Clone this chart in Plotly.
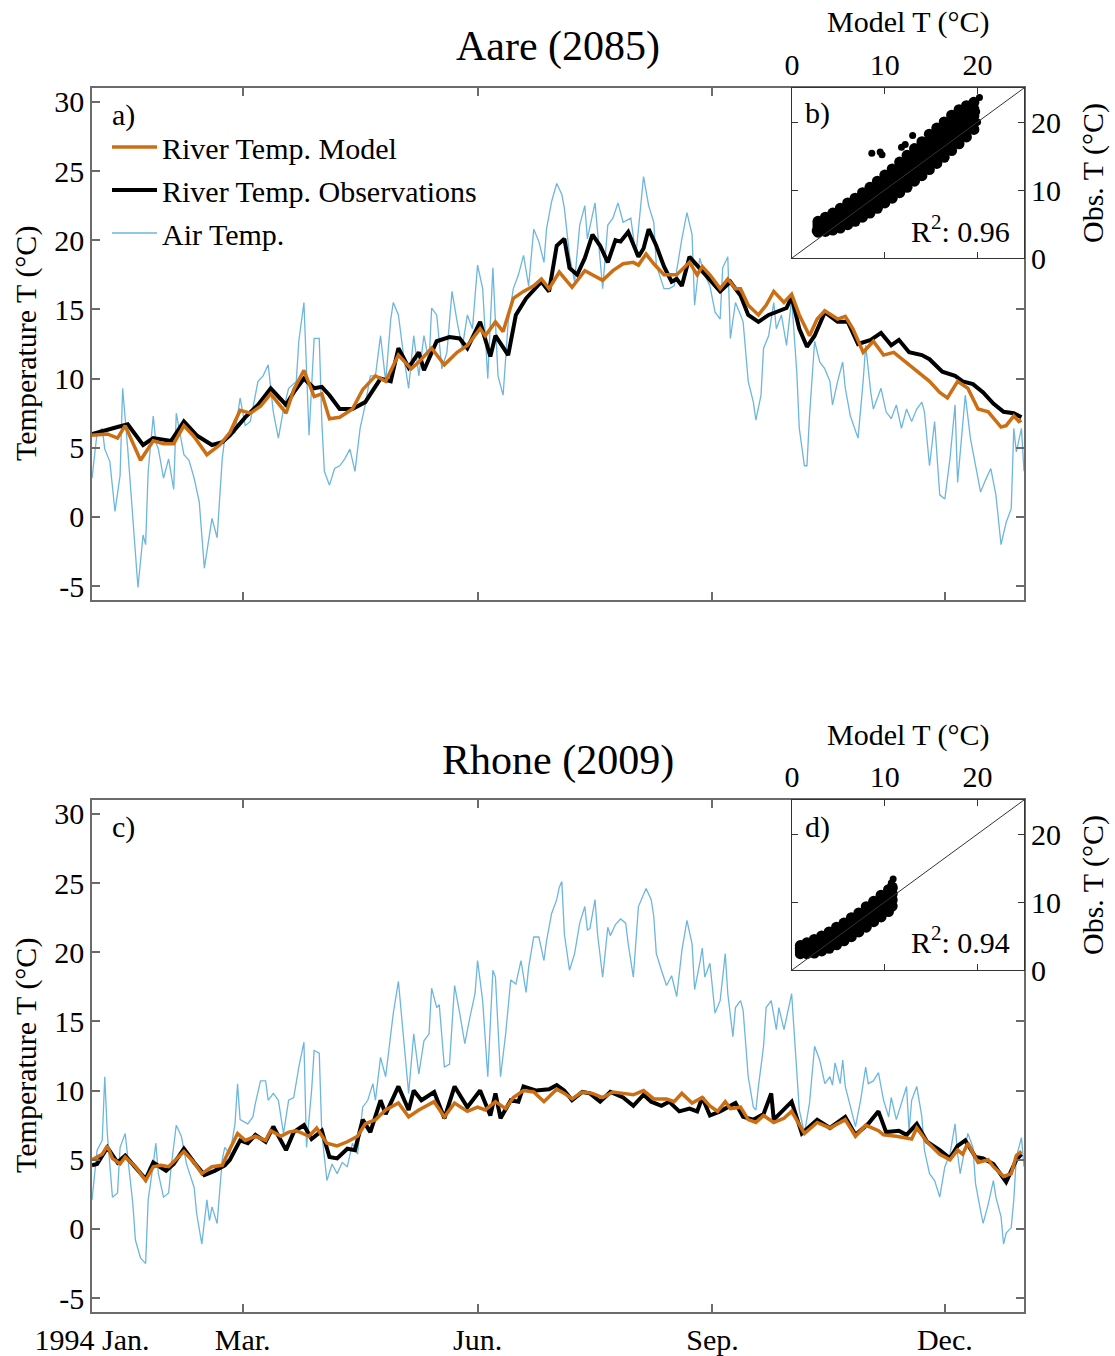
import plotly.graph_objects as go

# ---------------- DATA ----------------
# Aare (2085) - day of year (0 = 1 Jan 1994)
aare_model_day = [0, 6, 10, 13, 19, 24, 28, 32, 36, 40, 45, 50, 54, 58, 62, 66, 70, 76, 79, 83, 87, 90, 93, 97, 102, 106, 111, 115, 120, 125, 128, 133, 138, 143, 147, 152, 154, 158, 161, 165, 169, 173, 176, 179, 183, 188, 193, 196, 200, 204, 208, 212, 214, 217, 220, 224, 229, 234, 237, 239, 242, 246, 249, 252, 254, 257, 261, 264, 267, 271, 274, 277, 281, 284, 287, 292, 295, 298, 302, 306, 310, 314, 318, 323, 328, 332, 335, 339, 343, 347, 351, 356, 358, 361, 363, 364]
aare_model = [5.9, 6.0, 5.7, 6.6, 4.1, 5.5, 5.3, 5.3, 6.6, 5.8, 4.5, 5.2, 6.1, 7.7, 7.5, 8.0, 8.9, 7.5, 9.2, 10.6, 8.7, 8.9, 7.1, 7.2, 7.8, 9.2, 10.2, 9.8, 11.7, 10.7, 11.2, 12.2, 11.0, 11.9, 12.4, 13.6, 13.1, 14.1, 13.4, 15.8, 16.3, 16.7, 17.2, 16.5, 17.7, 16.6, 17.8, 17.5, 17.1, 17.8, 18.3, 18.4, 18.2, 19.0, 18.3, 17.5, 17.5, 18.4, 17.5, 18.1, 17.5, 16.5, 17.2, 16.5, 16.5, 15.3, 14.6, 15.3, 16.3, 15.5, 16.1, 14.6, 13.1, 14.3, 14.9, 14.3, 14.5, 13.6, 11.9, 12.7, 11.7, 11.9, 11.3, 10.5, 9.8, 9.0, 8.6, 9.8, 9.3, 7.8, 7.6, 6.5, 6.6, 7.3, 6.9, 7.0]

aare_obs_day = [0, 7, 10, 14, 20, 24, 31, 36, 41, 47, 51, 54, 60, 65, 70, 76, 79, 83, 87, 90, 93, 97, 102, 107, 113, 117, 120, 124, 128, 130, 135, 140, 144, 147, 152, 156, 158, 163, 166, 170, 176, 179, 182, 185, 187, 190, 193, 196, 199, 202, 205, 207, 210, 214, 216, 218, 221, 224, 227, 229, 231, 234, 237, 239, 242, 246, 250, 254, 257, 261, 265, 269, 272, 274, 277, 280, 283, 287, 292, 296, 300, 305, 309, 313, 316, 320, 325, 328, 333, 338, 341, 345, 349, 353, 357, 361, 364]
aare_obs = [6.0, 6.4, 6.5, 6.7, 5.2, 5.7, 5.5, 6.9, 5.9, 5.2, 5.4, 5.9, 7.2, 8.1, 9.3, 8.1, 9.0, 10.0, 9.3, 9.4, 8.8, 7.8, 7.8, 8.3, 10.0, 9.8, 12.2, 10.8, 11.9, 10.6, 12.7, 13.0, 12.9, 12.2, 14.1, 11.6, 13.1, 11.7, 14.6, 15.8, 17.0, 16.3, 19.6, 20.1, 18.0, 17.5, 18.7, 20.4, 19.6, 18.4, 20.0, 19.9, 20.6, 18.8, 19.4, 20.8, 19.6, 18.1, 17.0, 17.2, 16.7, 18.8, 18.2, 17.7, 17.2, 16.3, 17.0, 16.0, 14.6, 14.1, 14.6, 14.9, 15.1, 15.9, 13.6, 12.3, 13.1, 14.8, 14.1, 14.1, 12.5, 12.8, 13.3, 12.4, 12.8, 11.9, 11.7, 11.4, 10.5, 10.2, 9.8, 9.6, 9.0, 8.2, 7.6, 7.5, 7.2]

aare_air_day = [0, 2, 4, 5, 7, 9, 11, 12, 14, 16, 18, 20, 21, 22, 24, 25, 26, 28, 30, 32, 33, 36, 38, 40, 42, 44, 47, 49, 51, 52, 56, 58, 60, 62, 65, 67, 69, 71, 73, 75, 77, 80, 81, 83, 84, 85, 87, 89, 90, 91, 93, 95, 97, 99, 101, 103, 105, 107, 109, 111, 113, 115, 117, 118, 120, 122, 124, 126, 128, 130, 132, 133, 135, 137, 139, 141, 143, 145, 147, 149, 151, 153, 155, 157, 159, 161, 163, 165, 167, 169, 171, 173, 175, 177, 178, 180, 182, 184, 185, 187, 189, 191, 193, 194, 197, 199, 200, 202, 204, 206, 208, 211, 213, 216, 218, 220, 221, 224, 226, 228, 231, 233, 235, 236, 238, 240, 242, 244, 246, 247, 249, 250, 252, 254, 255, 257, 259, 260, 262, 263, 265, 267, 268, 270, 272, 274, 276, 277, 279, 280, 281, 283, 285, 287, 289, 290, 292, 294, 295, 297, 300, 302, 303, 305, 306, 309, 311, 313, 315, 317, 319, 321, 323, 325, 326, 328, 330, 332, 334, 336, 338, 339, 340, 342, 344, 346, 348, 350, 352, 354, 356, 358, 360, 361, 362, 364, 365]
aare_air = [2.8, 6.1, 6.4, 4.9, 4.0, 0.4, 3.0, 9.3, 4.9, 0.0, -5.1, -1.3, -2.0, 3.3, 7.3, 5.4, 4.9, 2.8, 4.2, 2.0, 7.5, 4.5, 4.1, 2.8, 1.1, -3.7, -0.1, -1.5, 4.2, 5.7, 6.1, 8.6, 6.6, 6.9, 9.8, 10.2, 11.0, 7.6, 5.7, 7.8, 9.3, 9.8, 12.7, 15.5, 10.5, 5.9, 12.9, 12.9, 6.9, 3.3, 2.3, 3.5, 3.7, 4.2, 4.9, 3.3, 6.4, 8.1, 10.2, 10.2, 13.1, 9.8, 14.3, 15.5, 14.6, 11.7, 9.3, 13.1, 10.2, 13.1, 11.2, 15.1, 14.6, 10.7, 11.9, 16.3, 14.1, 12.2, 14.6, 13.6, 18.2, 16.5, 10.0, 18.0, 10.2, 8.8, 14.1, 16.5, 17.5, 18.9, 16.7, 20.8, 19.9, 18.4, 20.8, 22.8, 24.1, 23.3, 22.3, 18.9, 17.0, 21.1, 22.5, 20.1, 22.7, 18.7, 16.5, 21.1, 21.6, 22.7, 21.3, 21.6, 18.9, 24.6, 22.5, 21.3, 18.2, 16.5, 16.5, 16.7, 20.1, 22.0, 20.4, 15.3, 18.7, 17.5, 16.7, 14.8, 14.3, 18.0, 18.8, 12.9, 15.5, 14.6, 14.1, 9.8, 8.3, 7.0, 8.8, 12.2, 13.1, 15.5, 13.6, 14.6, 12.4, 15.8, 10.5, 6.4, 3.7, 3.7, 7.3, 12.7, 11.2, 10.7, 9.8, 8.1, 9.8, 11.2, 9.3, 7.3, 5.7, 9.8, 12.4, 9.0, 7.8, 9.3, 7.6, 7.1, 8.1, 6.4, 7.8, 6.9, 7.8, 8.3, 7.6, 3.7, 6.9, 1.6, 1.3, 4.2, 8.1, 2.5, 4.5, 8.8, 5.7, 3.7, 1.8, 2.7, 3.5, 1.6, -2.0, -0.4, 0.6, 6.4, 4.7, 6.4, 3.3]

# Rhone (2009)
rhone_model_day = [0, 4, 6, 8, 11, 13, 17, 21, 24, 27, 30, 36, 40, 43, 47, 51, 53, 57, 60, 64, 68, 70, 74, 77, 80, 83, 85, 88, 92, 96, 100, 104, 107, 111, 115, 120, 124, 128, 134, 138, 142, 147, 151, 154, 158, 162, 165, 169, 173, 177, 182, 185, 188, 192, 196, 200, 204, 208, 212, 216, 220, 225, 228, 231, 235, 239, 242, 245, 248, 250, 254, 257, 260, 263, 267, 271, 274, 279, 284, 289, 295, 299, 303, 308, 310, 315, 321, 323, 327, 332, 336, 339, 341, 343, 347, 351, 353, 357, 360, 362, 364]
rhone_model = [5.0, 5.4, 6.0, 5.1, 4.7, 5.2, 4.5, 3.5, 4.5, 4.6, 4.5, 5.6, 4.8, 4.0, 4.5, 4.6, 5.4, 6.9, 6.4, 6.7, 6.4, 7.1, 6.7, 7.0, 7.1, 6.9, 6.7, 7.3, 6.2, 6.0, 6.3, 6.7, 7.6, 7.9, 8.6, 9.1, 8.1, 8.6, 9.2, 8.1, 9.1, 8.5, 8.8, 8.6, 9.2, 8.7, 9.5, 10.0, 9.9, 9.2, 10.1, 9.8, 9.4, 9.9, 9.8, 9.5, 9.9, 9.8, 9.7, 10.0, 9.4, 9.4, 9.2, 9.8, 9.1, 9.5, 8.9, 8.5, 9.2, 8.7, 8.8, 7.9, 7.7, 8.2, 7.7, 8.0, 8.5, 6.9, 7.7, 7.3, 7.9, 6.7, 7.5, 7.1, 6.8, 6.7, 6.5, 7.3, 6.3, 5.4, 5.0, 5.7, 5.4, 6.2, 4.8, 5.0, 4.5, 3.8, 4.0, 5.3, 5.6]

rhone_obs_day = [0, 2, 6, 10, 13, 17, 21, 24, 29, 32, 36, 40, 44, 48, 52, 54, 58, 61, 64, 68, 71, 76, 79, 83, 86, 90, 93, 96, 100, 103, 106, 109, 113, 115, 120, 124, 126, 129, 134, 138, 142, 147, 152, 156, 158, 160, 164, 167, 169, 174, 179, 182, 185, 188, 192, 195, 199, 203, 208, 212, 216, 219, 223, 226, 230, 234, 237, 239, 242, 246, 249, 252, 255, 259, 263, 266, 267, 270, 274, 278, 284, 289, 295, 299, 304, 308, 311, 316, 319, 323, 327, 332, 336, 339, 342, 346, 349, 353, 358, 362, 364]
rhone_obs = [4.6, 4.7, 5.9, 4.8, 5.3, 4.5, 3.6, 4.8, 4.2, 4.7, 5.8, 4.8, 3.9, 4.2, 4.6, 5.0, 6.4, 6.2, 6.8, 6.3, 7.4, 5.7, 7.0, 7.5, 6.5, 7.1, 5.2, 5.1, 5.8, 5.7, 7.9, 7.0, 9.3, 8.3, 10.3, 8.6, 10.0, 9.3, 9.9, 8.0, 10.3, 8.8, 10.0, 8.2, 9.8, 8.0, 9.3, 9.2, 10.3, 10.0, 10.1, 10.4, 10.0, 9.3, 9.9, 9.8, 9.2, 9.9, 9.5, 8.9, 9.7, 9.2, 8.9, 9.2, 8.5, 8.7, 8.5, 9.5, 8.2, 8.5, 8.8, 9.1, 8.1, 7.9, 8.3, 9.8, 7.9, 8.5, 9.2, 6.9, 7.9, 7.3, 8.1, 6.8, 7.6, 8.5, 7.0, 7.1, 6.8, 7.6, 6.3, 5.7, 5.1, 6.0, 6.4, 5.2, 5.1, 4.7, 3.4, 5.0, 5.4]

rhone_air_day = [0, 2, 4, 5, 6, 8, 10, 11, 13, 15, 16, 17, 19, 21, 22, 24, 25, 26, 28, 30, 31, 33, 35, 37, 40, 41, 43, 45, 46, 47, 49, 51, 52, 54, 56, 57, 58, 61, 63, 64, 66, 68, 69, 71, 73, 75, 77, 79, 81, 83, 84, 86, 87, 89, 90, 92, 94, 96, 98, 100, 102, 104, 106, 108, 110, 111, 113, 115, 117, 118, 120, 122, 124, 126, 128, 130, 132, 133, 135, 136, 138, 140, 142, 144, 146, 148, 150, 151, 153, 155, 157, 158, 160, 162, 164, 166, 168, 170, 171, 173, 175, 177, 178, 180, 182, 183, 184, 185, 187, 189, 191, 193, 194, 195, 197, 198, 200, 202, 203, 205, 207, 209, 210, 212, 214, 217, 219, 220, 221, 223, 225, 227, 229, 231, 233, 235, 236, 238, 239, 240, 242, 244, 246, 248, 249, 251, 252, 254, 255, 257, 259, 260, 261, 263, 264, 266, 268, 269, 271, 274, 275, 276, 277, 279, 281, 283, 285, 287, 289, 290, 291, 293, 294, 295, 297, 299, 301, 303, 304, 306, 308, 310, 312, 313, 315, 317, 319, 320, 321, 323, 325, 326, 328, 330, 332, 334, 336, 338, 339, 340, 343, 345, 346, 348, 349, 351, 353, 354, 356, 357, 358, 360, 361, 362, 364, 365]
rhone_air = [2.1, 5.7, 6.4, 11.0, 6.9, 2.3, 2.6, 5.9, 6.9, 3.5, 1.8, -0.8, -2.1, -2.5, 2.1, 4.7, 6.2, 4.0, 2.3, 2.6, 4.5, 7.5, 6.7, 4.7, 3.0, 1.1, -1.1, 2.1, 0.6, 1.6, 0.4, 5.0, 5.9, 5.4, 7.6, 10.5, 7.9, 7.6, 8.1, 9.1, 10.7, 10.7, 9.3, 9.8, 9.3, 6.9, 9.3, 9.5, 11.7, 13.5, 5.9, 10.0, 12.9, 12.7, 6.9, 3.5, 4.7, 4.0, 4.8, 4.5, 6.2, 5.4, 8.8, 9.3, 10.5, 9.3, 12.4, 11.0, 14.4, 15.6, 17.9, 14.1, 9.8, 14.1, 11.2, 13.6, 14.1, 17.4, 16.0, 16.2, 11.7, 11.9, 17.6, 15.6, 13.4, 15.3, 17.0, 19.4, 16.5, 11.0, 18.7, 18.2, 11.0, 14.1, 18.0, 17.7, 19.4, 17.1, 18.9, 21.1, 21.1, 19.4, 20.8, 22.8, 23.8, 24.7, 25.1, 21.3, 18.7, 19.9, 22.1, 23.3, 21.6, 21.7, 23.8, 21.3, 18.2, 21.8, 21.2, 22.0, 22.4, 22.1, 20.6, 18.2, 23.3, 24.6, 23.8, 22.6, 19.9, 18.7, 17.6, 18.3, 16.8, 20.1, 22.3, 20.6, 17.3, 19.2, 20.3, 18.2, 19.2, 15.6, 16.5, 19.9, 17.0, 13.9, 16.0, 16.5, 15.8, 11.0, 8.8, 8.6, 10.3, 13.2, 16.0, 16.5, 14.4, 16.0, 14.4, 17.0, 14.4, 11.7, 8.6, 6.9, 9.1, 13.2, 12.2, 10.5, 11.0, 10.4, 12.0, 10.5, 12.2, 10.3, 8.8, 7.4, 9.3, 11.7, 10.5, 10.7, 11.3, 9.3, 8.1, 9.5, 7.9, 9.1, 10.3, 7.1, 9.3, 10.3, 8.1, 5.7, 4.0, 3.5, 2.3, 4.5, 5.4, 7.6, 5.4, 4.0, 6.9, 5.9, 3.3, 1.3, 0.4, 1.8, 3.5, 2.3, 0.9, -1.1, -0.3, 0.1, 2.1, 5.2, 6.6, 4.5]

# Inset b) scatter cloud (Aare), model vs observed
b_model_grid = [2.8, 3.6, 4.4, 5.2, 6.0, 6.8, 7.6, 8.4, 9.2, 10.0, 10.8, 11.6, 12.4, 13.2, 14.0, 14.8, 15.6, 16.4, 17.2, 18.0, 18.8, 19.6]
b_obs_row1 = [5.4, 6.0, 6.6, 7.3, 8.1, 8.8, 9.6, 10.4, 11.3, 12.2, 13.1, 14.1, 15.1, 16.1, 17.1, 18.2, 19.1, 20.0, 21.0, 21.8, 22.4, 22.9]
b_obs_row2 = [5.0, 5.5, 6.0, 6.6, 7.3, 7.9, 8.7, 9.4, 10.3, 11.2, 12.0, 12.9, 13.9, 14.8, 15.8, 16.8, 17.7, 18.6, 19.6, 20.5, 21.2, 21.9]
b_obs_row3 = [4.6, 5.0, 5.4, 5.9, 6.5, 7.1, 7.8, 8.5, 9.3, 10.2, 11.0, 11.9, 12.8, 13.7, 14.6, 15.6, 16.5, 17.4, 18.4, 19.3, 20.1, 20.9]
b_obs_row4 = [4.2, 4.5, 4.8, 5.2, 5.7, 6.3, 6.9, 7.6, 8.4, 9.2, 10.0, 10.8, 11.7, 12.6, 13.4, 14.3, 15.2, 16.1, 17.1, 18.1, 19.0, 19.9]
b_obs_row5 = [3.8, 3.9, 4.1, 4.4, 4.9, 5.4, 6.0, 6.6, 7.3, 8.1, 8.8, 9.6, 10.4, 11.3, 12.1, 13.0, 13.9, 14.8, 15.8, 16.8, 17.8, 18.9]
b_extra_model = [8.6, 9.5, 9.7, 11.8, 12.2, 20.2, 2.5, 13.0, 19.9, 20.0]
b_extra_obs = [15.4, 15.6, 15.2, 16.3, 16.7, 23.6, 4.0, 18.0, 21.5, 20.0]

# Inset d) scatter cloud (Rhone), model vs observed
d_model_grid = [0.9, 1.6, 2.4, 3.2, 4.0, 4.8, 5.6, 6.4, 7.2, 8.0, 8.8, 9.6, 10.4, 10.8]
d_obs_row1 = [3.6, 4.0, 4.5, 5.0, 5.6, 6.3, 6.9, 7.7, 8.4, 9.3, 10.1, 11.0, 11.8, 12.2]
d_obs_row2 = [3.2, 3.4, 3.8, 4.2, 4.8, 5.4, 6.0, 6.7, 7.4, 8.3, 9.1, 9.9, 10.7, 11.2]
d_obs_row3 = [2.8, 2.9, 3.1, 3.5, 3.9, 4.5, 5.1, 5.8, 6.5, 7.2, 8.0, 8.8, 9.6, 10.3]
d_obs_row4 = [2.4, 2.4, 2.5, 2.8, 3.2, 3.7, 4.3, 4.9, 5.6, 6.3, 7.1, 7.8, 8.6, 9.4]
d_extra_model = [10.9, 10.7, 11.0]
d_extra_obs = [13.4, 12.8, 12.0]

one_to_one = [0, 25]

month_ticks = [0, 59, 151, 243, 334]
month_labels = ["1994 Jan.", "Mar.", "Jun.", "Sep.", "Dec."]
temp_ticks = [-5, 0, 5, 10, 15, 20, 25, 30]
temp_labels = ["-5", "0", "5", "10", "15", "20", "25", "30"]
inset_ticks = [0, 10, 20]

# ---------------- STYLE ----------------
W, H = 1115, 1356
FONT = "Liberation Serif"
C_MODEL = "#CC6E14"
C_OBS = "#000000"
C_AIR = "#6DB6DE"

def fx(x):
    return x / W

def fy(y):
    return 1 - y / H

fig = go.Figure()

def add_panel(xa, ya, air_d, air, obs_d, obs, mod_d, mod, legend):
    fig.add_trace(go.Scatter(x=air_d, y=air, mode="lines", line=dict(color=C_AIR, width=1.3),
                             name="Air Temp.", xaxis=xa, yaxis=ya, showlegend=legend,
                             legendrank=3, legendgroup="c"))
    fig.add_trace(go.Scatter(x=obs_d, y=obs, mode="lines", line=dict(color=C_OBS, width=4),
                             name="River Temp. Observations", xaxis=xa, yaxis=ya, showlegend=legend,
                             legendrank=2, legendgroup="b"))
    fig.add_trace(go.Scatter(x=mod_d, y=mod, mode="lines", line=dict(color=C_MODEL, width=3.5),
                             name="River Temp. Model", xaxis=xa, yaxis=ya, showlegend=legend,
                             legendrank=1, legendgroup="a"))

add_panel("x", "y", aare_air_day, aare_air, aare_obs_day, aare_obs, aare_model_day, aare_model, True)
add_panel("x2", "y2", rhone_air_day, rhone_air, rhone_obs_day, rhone_obs, rhone_model_day, rhone_model, False)

def add_inset(xa, ya, grid, rows, ex_m, ex_o):
    for r in rows:
        fig.add_trace(go.Scatter(x=grid, y=r, mode="markers",
                                 marker=dict(color="black", size=11, opacity=1, line=dict(width=0)),
                                 xaxis=xa, yaxis=ya, showlegend=False, hoverinfo="skip"))
    fig.add_trace(go.Scatter(x=ex_m, y=ex_o, mode="markers",
                             marker=dict(color="black", size=7, line=dict(width=0)),
                             xaxis=xa, yaxis=ya, showlegend=False))
    fig.add_trace(go.Scatter(x=one_to_one, y=one_to_one, mode="lines", line=dict(color="#333", width=1),
                             xaxis=xa, yaxis=ya, showlegend=False))

add_inset("x3", "y3", b_model_grid, [b_obs_row1, b_obs_row2, b_obs_row3, b_obs_row4, b_obs_row5],
          b_extra_model, b_extra_obs)
add_inset("x4", "y4", d_model_grid, [d_obs_row1, d_obs_row2, d_obs_row3, d_obs_row4],
          d_extra_model, d_extra_obs)

tickfont = dict(family=FONT, size=30, color="black")
main_ax = dict(showline=True, mirror="ticks", ticks="inside", ticklen=8, tickwidth=1.5,
               tickcolor="#6b6b6b", linecolor="#6b6b6b", linewidth=1.5, showgrid=False,
               zeroline=False, tickfont=tickfont, automargin=False)
inset_ax = dict(showline=True, mirror="ticks", ticks="inside", ticklen=6, tickwidth=1,
                tickcolor="#333", linecolor="#333", linewidth=1, showgrid=False,
                zeroline=False, tickfont=tickfont, range=[0, 25], tickvals=inset_ticks,
                automargin=False)

x_dom = [fx(92), fx(1024)]
xi_dom = [fx(792), fx(1024)]

fig.update_layout(
    width=W, height=H, margin=dict(l=0, r=0, t=0, b=0, autoexpand=False),
    paper_bgcolor="white", plot_bgcolor="white",
    font=dict(family=FONT, size=30, color="black"),
    xaxis=dict(main_ax, domain=x_dom, range=[0, 365], tickvals=month_ticks, showticklabels=False, anchor="y"),
    yaxis=dict(main_ax, domain=[fy(600), fy(88)], range=[-6, 31], tickvals=temp_ticks,
               ticktext=temp_labels, anchor="x", ticklabelstandoff=0),
    xaxis2=dict(main_ax, domain=x_dom, range=[0, 365], tickvals=month_ticks, ticktext=month_labels,
                anchor="y2", ticklabelstandoff=0),
    yaxis2=dict(main_ax, domain=[fy(1312), fy(800)], range=[-6, 31], tickvals=temp_ticks,
                ticktext=temp_labels, anchor="x2", ticklabelstandoff=0),
    xaxis3=dict(inset_ax, domain=xi_dom, anchor="y3", side="top"),
    yaxis3=dict(inset_ax, domain=[fy(258), fy(88)], anchor="x3", side="right"),
    xaxis4=dict(inset_ax, domain=xi_dom, anchor="y4", side="top"),
    yaxis4=dict(inset_ax, domain=[fy(970), fy(800)], anchor="x4", side="right"),
    legend=dict(x=fx(107), y=fy(121), xanchor="left", yanchor="top", bgcolor="rgba(0,0,0,0)",
                font=dict(family=FONT, size=30, color="black"), tracegroupgap=1,
                traceorder="grouped", itemwidth=45),
    showlegend=True,
)

def ann(text, x, y, size=30, angle=0, xanchor="center"):
    fig.add_annotation(text=text, x=fx(x), y=fy(y), xref="paper", yref="paper", showarrow=False,
                       font=dict(family=FONT, size=size, color="black"), textangle=angle,
                       xanchor=xanchor, yanchor="middle")

ann("Aare (2085)", 558, 47, size=42)
ann("Rhone (2009)", 558, 760, size=42)
ann("Temperature T (°C)", 26, 344, angle=-90)
ann("Temperature T (°C)", 26, 1056, angle=-90)
ann("Model T (°C)", 908, 22)
ann("Model T (°C)", 908, 735)
ann("Obs. T (°C)", 1093, 173, angle=-90)
ann("Obs. T (°C)", 1093, 885, angle=-90)
ann("a)", 110, 115, xanchor="left")
ann("b)", 803, 113, xanchor="left")
ann("c)", 110, 827, xanchor="left")
ann("d)", 803, 827, xanchor="left")
ann("R<sup>2</sup>: 0.96", 1012, 229, xanchor="right")
ann("R<sup>2</sup>: 0.94", 1012, 940, xanchor="right")

fig.write_html("out.html")
